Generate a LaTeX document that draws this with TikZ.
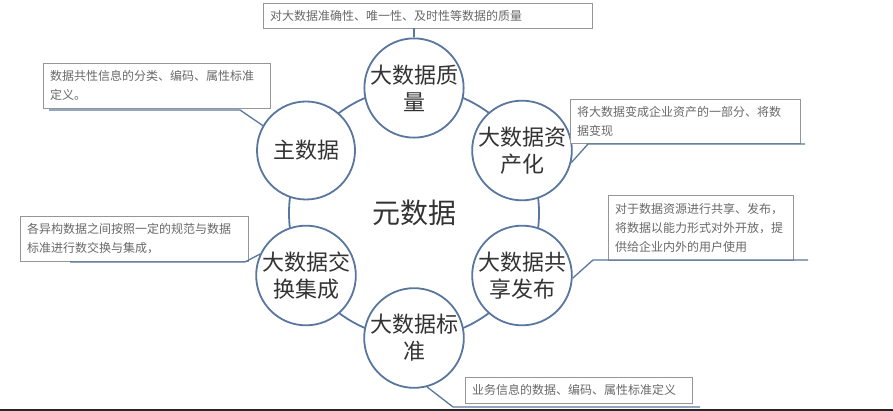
\documentclass[tikz,border=0pt]{standalone}
\usepackage{fontspec}
\newfontfamily\cjk{Noto Sans CJK SC}
\definecolor{ringblue}{RGB}{88,118,158}
\definecolor{notegray}{RGB}{150,150,150}
\definecolor{textgray}{RGB}{105,105,105}
\tikzset{
  topic/.style={circle,draw=ringblue,line width=1.8pt,fill=white,minimum size=98pt,inner sep=0pt,align=center,font=\cjk\fontsize{22}{27}\selectfont,text=black!80},
  note/.style={draw=notegray,fill=white,anchor=north west,align=left,inner xsep=7pt,inner ysep=3pt,font=\cjk\fontsize{12}{19}\selectfont,text=textgray},
  link/.style={draw=ringblue,line width=1.3pt}
}
\begin{document}
\begin{tikzpicture}[x=1pt,y=-1pt]
    \useasboundingbox (0,0) rectangle (893,411);
    \draw[ringblue,line width=1.8pt] (414,213) circle [radius=125pt];
    \node[font=\cjk\fontsize{28}{32}\selectfont,text=black!80] (meta) at (414,213) {元数据};
    \node[topic] (zhiliang) at (414,88) {大数据质\\量};
    \node[topic] (zichan) at (522,150.5) {大数据资\\产化};
    \node[topic] (gongxiang) at (522,275.5) {大数据共\\享发布};
    \node[topic] (biaozhun) at (414,338) {大数据标\\准};
    \node[topic] (jiaohuan) at (306,275.5) {大数据交\\换集成};
    \node[topic] (zhu) at (306,150.5) {主数据};
    \node[note,text width=315pt,minimum height=25pt] (n1) at (263,3) {对大数据准确性、唯一性、及时性等数据的质量};
    \node[note,text width=213pt,minimum height=45pt] (n2) at (43,63) {数据共性信息的分类、编码、属性标准\\定义。};
    \node[note,text width=216pt,minimum height=44pt] (n3) at (570,99) {将大数据变成企业资产的一部分、将数\\据变现};
    \node[note,text width=214pt,minimum height=45pt] (n4) at (20,216) {各异构数据之间按照一定的规范与数据\\标准进行数交换与集成，};
    \node[note,text width=171pt,minimum height=65pt] (n5) at (608,195) {对于数据资源进行共享、发布，\\将数据以能力形式对外开放，提\\供给企业内外的用户使用};
    \node[note,text width=213pt,minimum height=26pt] (n6) at (465,377) {业务信息的数据、编码、属性标准定义};
    \coordinate (k2a) at (240,110); \coordinate (k2b) at (49,110);
    \coordinate (k3a) at (588,144); \coordinate (k3b) at (805,144);
    \coordinate (k4a) at (245,262); \coordinate (k4b) at (70,262);
    \coordinate (k5a) at (593,260); \coordinate (k5b) at (808,260);
    \coordinate (k6a) at (453,407); \coordinate (k6b) at (700,407);
    \draw[link] (zhiliang.north) -- (zhiliang.north |- n1.south);
    \draw[link] (zhu.150) -- (k2a) -- (k2b);
    \draw[link] (zichan.-14) -- (k3a) -- (k3b);
    \draw[link] (jiaohuan.155) -- (k4a) -- (k4b);
    \draw[link] (gongxiang.-3) -- (k5a) -- (k5b);
    \draw[link] (biaozhun.-75) -- (k6a) -- (k6b);
    \fill[black!85] (0,408.5) rectangle (893,411);
\end{tikzpicture}
\end{document}
